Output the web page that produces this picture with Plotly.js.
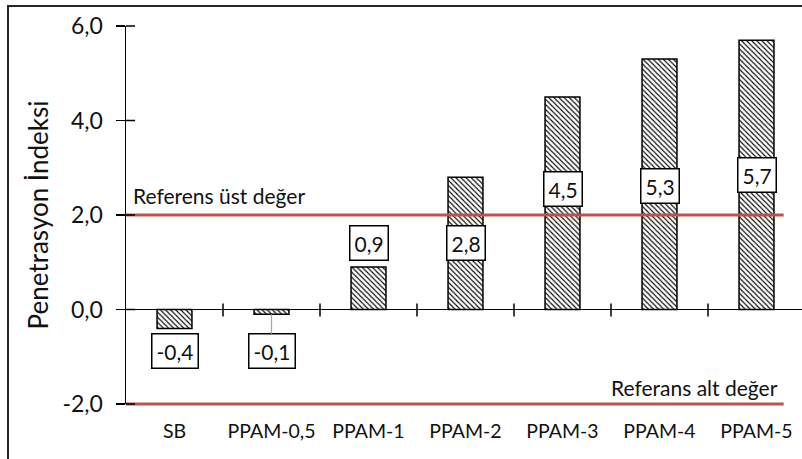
<!DOCTYPE html>
<html>
<head>
<meta charset="utf-8">
<script src="https://cdn.plot.ly/plotly-3.0.1.min.js"></script>
<style>
  html, body { margin: 0; padding: 0; overflow: hidden; background: #fff; width: 802px; height: 459px; }
  #chart { position: absolute; left: 0; top: 0; }
  #frame { position: absolute; left: 7px; top: 5px; width: 1000px; height: 1000px;
           border-left: 2px solid #262626; border-top: 2px solid #262626; pointer-events: none; }
</style>
</head>
<body>
<div id="chart"></div>
<div id="frame"></div>
<script>
// Penetration index per sample
const categories = ['SB', 'PPAM-0,5', 'PPAM-1', 'PPAM-2', 'PPAM-3', 'PPAM-4', 'PPAM-5'];
const penetrationIndex = [-0.4, -0.1, 0.9, 2.8, 4.5, 5.3, 5.7];

// y axis ticks
const yTickValues = [-2, 0, 2, 4, 6];
const yTickLabels = ['-2,0', '0,0', '2,0', '4,0', '6,0'];

// reference limits
const referenceUpper = 2.0;
const referenceLower = -2.0;
const referenceUpperLabel = 'Referens üst değer';
const referenceLowerLabel = 'Referans alt değer';

// vertical placement of each value box (axis units)
const labelY = [-0.88, -0.88, 1.41, 1.41, 2.56, 2.62, 2.85];

const FONT = 'Lato, "Open Sans", sans-serif';
const TEXT = '#111111';
const RED = '#c0504d';
const Y_MIN = -2, Y_MAX = 6;
const X_MIN = -0.5, X_MAX = categories.length - 0.5;
const REF_END = categories.length - 0.72;   // reference lines stop short of the last slot
const fmt = v => v.toFixed(1).replace('.', ',');
// paper fractions of the plot area, so lines on the plot edge are not clipped
const py = v => (v - Y_MIN) / (Y_MAX - Y_MIN);
const px = v => (v - X_MIN) / (X_MAX - X_MIN);

const bars = {
  type: 'bar',
  x: categories,
  y: penetrationIndex,
  width: 0.36,
  marker: {
    color: '#ffffff',
    line: { color: '#000000', width: 1.5 },
    pattern: { shape: '\\', fgcolor: '#000000', bgcolor: '#ffffff', size: 3.6, solidity: 0.3 }
  },
  hoverinfo: 'skip'
};

const shapes = [];
// reference lines
[referenceUpper, referenceLower].forEach(v => {
  shapes.push({
    type: 'line', layer: 'above', xref: 'paper', yref: 'paper',
    x0: 0, x1: px(REF_END), y0: py(v), y1: py(v),
    line: { color: RED, width: 3 }
  });
});
// inner half of the y ticks (axis ticks cross the line)
yTickValues.forEach(v => {
  shapes.push({
    type: 'line', layer: 'above', xref: 'paper', yref: 'paper',
    xsizemode: 'pixel', xanchor: 0, x0: 0, x1: 9, y0: py(v), y1: py(v),
    line: { color: '#000000', width: 1.5 }
  });
});
// category boundary ticks on the zero line
for (let i = 0; i < categories.length - 1; i++) {
  shapes.push({
    type: 'line', layer: 'above', xref: 'paper', yref: 'paper',
    ysizemode: 'pixel', yanchor: py(0), y0: -7, y1: 6, x0: px(i + 0.5), x1: px(i + 0.5),
    line: { color: '#000000', width: 1.5 }
  });
}

const annotations = penetrationIndex.map((v, i) => {
  const a = {
    x: categories[i], y: labelY[i], xref: 'x', yref: 'y',
    text: fmt(v), showarrow: false,
    font: { family: FONT, size: 21, color: TEXT },
    bgcolor: '#ffffff', bordercolor: '#000000', borderwidth: 1.5, borderpad: 4
  };
  if (labelY[i] < v - 0.5 && v > -0.3 && v < 0) {
    // leader line from a small bar to its value box
    Object.assign(a, {
      y: v, showarrow: true, arrowhead: 0, arrowwidth: 1.2, arrowcolor: '#a6a6a6',
      ax: 0, ayref: 'y', ay: labelY[i]
    });
  }
  return a;
});
annotations.push({
  x: X_MIN, xref: 'x', xanchor: 'left', xshift: 5, y: referenceUpper + 0.41, yref: 'y',
  text: referenceUpperLabel, showarrow: false,
  font: { family: FONT, size: 21, color: TEXT }
});
annotations.push({
  x: REF_END, xref: 'x', xanchor: 'right', xshift: -4, y: referenceLower + 0.35, yref: 'y',
  text: referenceLowerLabel, showarrow: false,
  font: { family: FONT, size: 21, color: TEXT }
});

const layout = {
  width: 812, height: 459,
  margin: { l: 126, r: 7, t: 26, b: 55 },
  paper_bgcolor: 'rgba(0,0,0,0)', plot_bgcolor: 'rgba(0,0,0,0)',
  showlegend: false,
  font: { family: FONT, color: TEXT },
  xaxis: {
    type: 'category', range: [X_MIN, X_MAX],
    showline: false, showgrid: false, zeroline: false, ticks: '',
    tickfont: { family: FONT, size: 19.5, color: TEXT },
    ticklabelstandoff: 13, fixedrange: true
  },
  yaxis: {
    range: [Y_MIN, Y_MAX], tickvals: yTickValues, ticktext: yTickLabels,
    showline: true, linecolor: '#000000', linewidth: 1.5,
    ticks: 'outside', ticklen: 9, tickwidth: 1.5, tickcolor: '#000000',
    ticklabelstandoff: 8,
    showgrid: false, zeroline: true, zerolinecolor: '#000000', zerolinewidth: 1.5,
    tickfont: { family: FONT, size: 23, color: TEXT },
    title: { text: 'Penetrasyon İndeksi', font: { family: FONT, size: 26, color: TEXT }, standoff: 6 },
    fixedrange: true
  },
  shapes: shapes,
  annotations: annotations
};

Plotly.newPlot('chart', [bars], layout, { staticPlot: true, displayModeBar: false });
</script>
</body>
</html>
